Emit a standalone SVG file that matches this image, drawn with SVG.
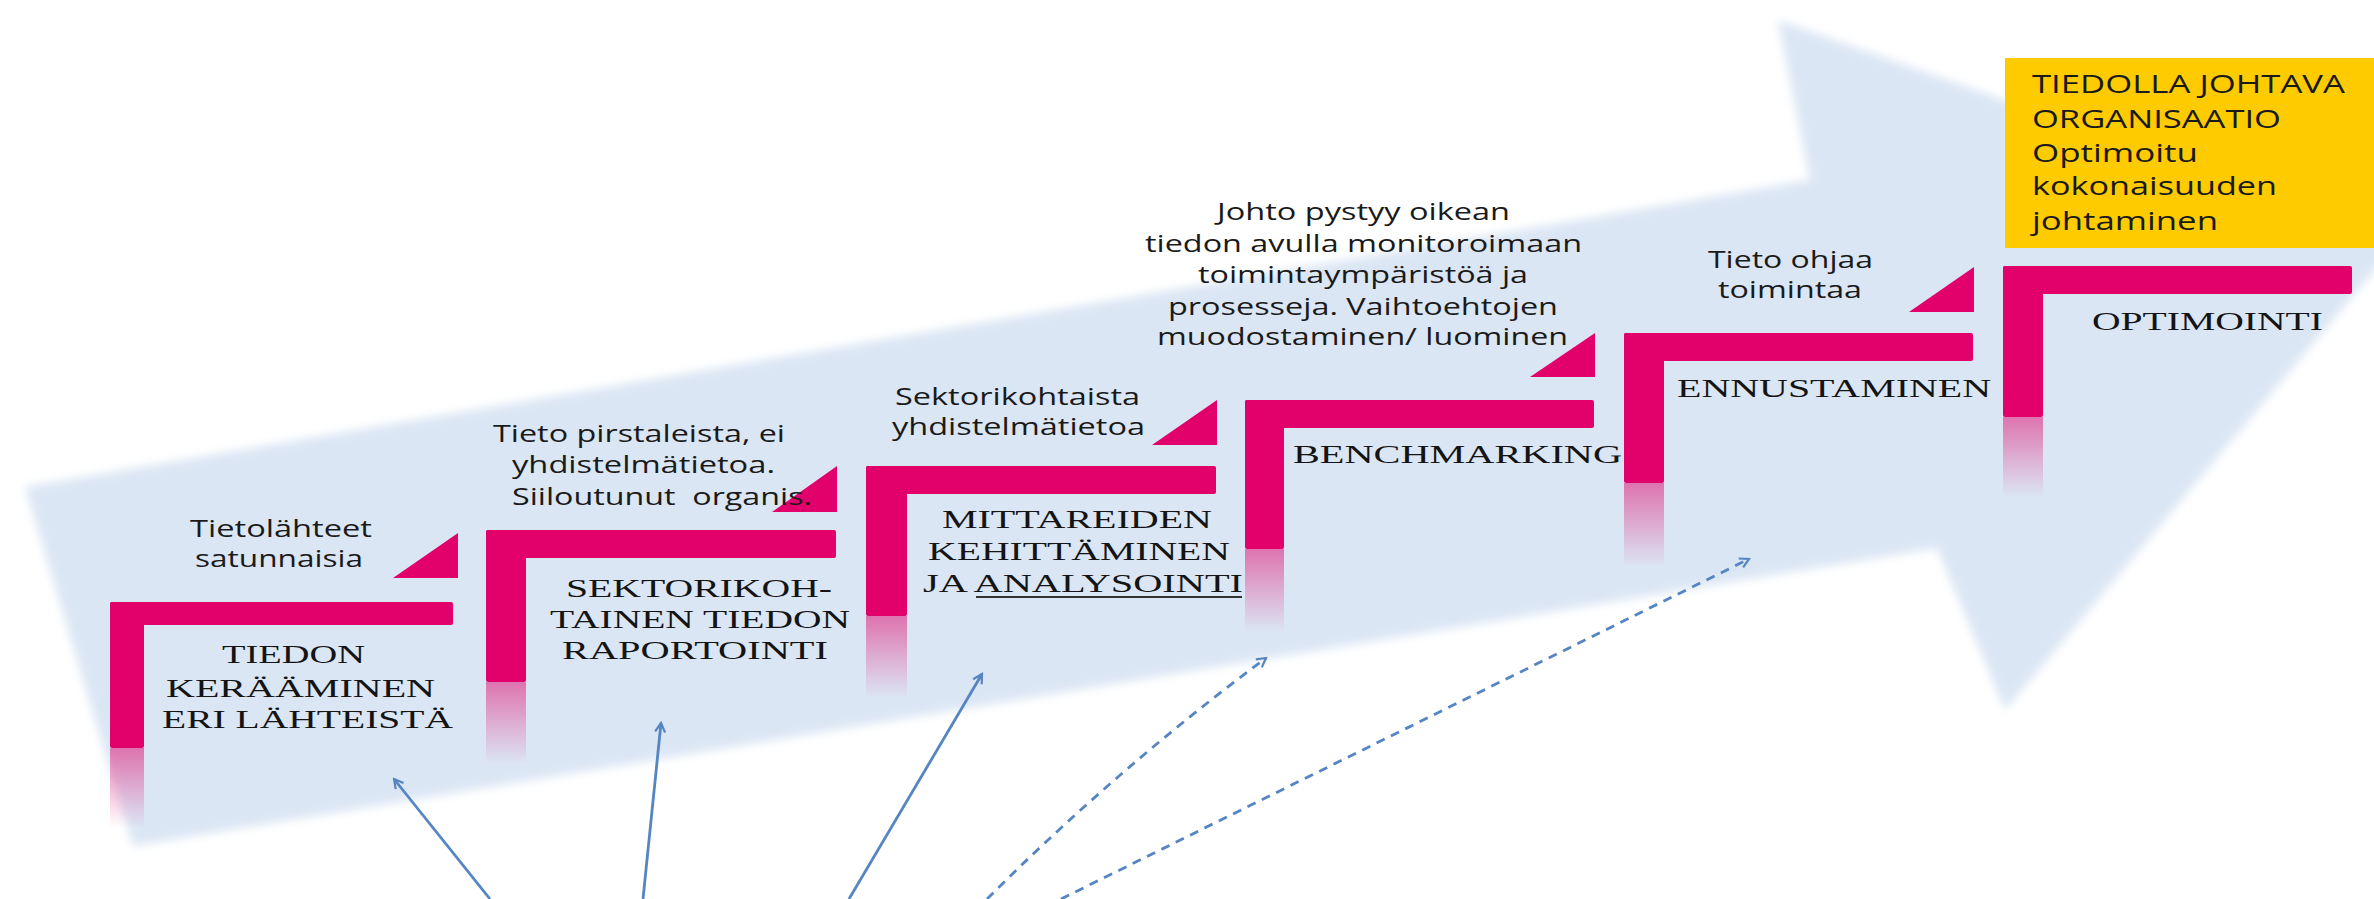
<svg xmlns="http://www.w3.org/2000/svg" width="2374" height="899" viewBox="0 0 2374 899">
<style>
.bar{fill:#e2006b}
.s{font-family:"Open Sans","Noto Sans","Liberation Sans",sans-serif;font-size:23px;fill:#1a1a1a}
.g{font-family:"Open Sans","Noto Sans","Liberation Sans",sans-serif;font-size:25px;fill:#1a1a1a}
.r{font-family:"Liberation Serif","Times New Roman",serif;font-size:26px;fill:#141414}
.ar{fill:none;stroke:#5585c2;stroke-width:2.8}
.da{stroke-dasharray:9 7}
</style>
<defs>
<filter id="soft" x="-5%" y="-10%" width="110%" height="120%"><feGaussianBlur stdDeviation="5"/></filter>
<linearGradient id="fade" x1="0" y1="0" x2="0" y2="1">
<stop offset="0" stop-color="#e2006b" stop-opacity="0.5"/>
<stop offset="1" stop-color="#e2006b" stop-opacity="0"/>
</linearGradient>
<marker id="ah" viewBox="0 0 12 12" refX="10" refY="6" markerWidth="12" markerHeight="12" markerUnits="userSpaceOnUse" orient="auto">
<path d="M1,1 L10,6 L1,11" fill="none" stroke="#5585c2" stroke-width="2.2"/>
</marker>
</defs>
<rect width="2374" height="899" fill="#ffffff"/>
<g id="big-arrow">
<path d="M25,487 L1810,180 L1778,20 L2400,240 L2005,710 L1937,548 L133,846 Z" fill="#dbe6f4" filter="url(#soft)"/>
</g>
<g id="goal">
<rect x="2005" y="58" width="369" height="190" fill="#fecb00"/>
<text class="g" x="2032" y="93" textLength="313" lengthAdjust="spacingAndGlyphs">TIEDOLLA JOHTAVA</text>
<text class="g" x="2032" y="128" textLength="249" lengthAdjust="spacingAndGlyphs">ORGANISAATIO</text>
<text class="g" x="2032" y="162" textLength="166" lengthAdjust="spacingAndGlyphs">Optimoitu</text>
<text class="g" x="2032" y="195" textLength="245" lengthAdjust="spacingAndGlyphs">kokonaisuuden</text>
<text class="g" x="2032" y="230" textLength="186" lengthAdjust="spacingAndGlyphs">johtaminen</text>
</g>
<g id="step1">
<rect class="bar" x="110" y="602" width="343" height="23" rx="2"/>
<rect class="bar" x="110" y="602" width="34" height="146" rx="2"/>
<rect x="110" y="748" width="34" height="80" fill="url(#fade)"/>
<path class="bar" d="M458,533 L458,578 L393,578 Z"/>
<text class="s" x="190" y="537" textLength="182" lengthAdjust="spacingAndGlyphs">Tietolähteet</text>
<text class="s" x="195" y="567" textLength="168" lengthAdjust="spacingAndGlyphs">satunnaisia</text>
<text class="r" x="222" y="663" textLength="143" lengthAdjust="spacingAndGlyphs">TIEDON</text>
<text class="r" x="166" y="697" textLength="269" lengthAdjust="spacingAndGlyphs">KERÄÄMINEN</text>
<text class="r" x="162" y="728" textLength="291" lengthAdjust="spacingAndGlyphs">ERI LÄHTEISTÄ</text>
</g>
<g id="step2">
<rect class="bar" x="486" y="530" width="350" height="28" rx="2"/>
<rect class="bar" x="486" y="530" width="40" height="152" rx="2"/>
<rect x="486" y="682" width="40" height="82" fill="url(#fade)"/>
<path class="bar" d="M837,466 L837,512 L772,512 Z"/>
<text class="s" x="493" y="442" textLength="292" lengthAdjust="spacingAndGlyphs">Tieto pirstaleista, ei</text>
<text class="s" x="512" y="473" textLength="263" lengthAdjust="spacingAndGlyphs">yhdistelmätietoa.</text>
<text class="s" x="512" y="505" textLength="300" lengthAdjust="spacingAndGlyphs" xml:space="preserve">Siiloutunut  organis.</text>
<text class="r" x="566" y="597" textLength="266" lengthAdjust="spacingAndGlyphs">SEKTORIKOH-</text>
<text class="r" x="550" y="628" textLength="300" lengthAdjust="spacingAndGlyphs">TAINEN TIEDON</text>
<text class="r" x="562" y="659" textLength="266" lengthAdjust="spacingAndGlyphs">RAPORTOINTI</text>
</g>
<g id="step3">
<rect class="bar" x="866" y="466" width="350" height="28" rx="2"/>
<rect class="bar" x="866" y="466" width="41" height="150" rx="2"/>
<rect x="866" y="616" width="41" height="82" fill="url(#fade)"/>
<path class="bar" d="M1217,400 L1217,445 L1152,445 Z"/>
<text class="s" x="895" y="405" textLength="245" lengthAdjust="spacingAndGlyphs">Sektorikohtaista</text>
<text class="s" x="892" y="435" textLength="253" lengthAdjust="spacingAndGlyphs">yhdistelmätietoa</text>
<text class="r" x="942" y="528" textLength="270" lengthAdjust="spacingAndGlyphs">MITTAREIDEN</text>
<text class="r" x="928" y="560" textLength="302" lengthAdjust="spacingAndGlyphs">KEHITTÄMINEN</text>
<text class="r" x="923" y="592" textLength="320" lengthAdjust="spacingAndGlyphs">JA ANALYSOINTI</text>
<line x1="976" y1="597" x2="1242" y2="597" stroke="#333" stroke-width="2"/>
</g>
<g id="step4">
<rect class="bar" x="1245" y="400" width="349" height="28" rx="2"/>
<rect class="bar" x="1245" y="400" width="39" height="149" rx="2"/>
<rect x="1245" y="549" width="39" height="83" fill="url(#fade)"/>
<path class="bar" d="M1595,333 L1595,377 L1530,377 Z"/>
<text class="s" x="1217" y="220" textLength="293" lengthAdjust="spacingAndGlyphs">Johto pystyy oikean</text>
<text class="s" x="1145" y="252" textLength="437" lengthAdjust="spacingAndGlyphs">tiedon avulla monitoroimaan</text>
<text class="s" x="1198" y="283" textLength="330" lengthAdjust="spacingAndGlyphs">toimintaympäristöä ja</text>
<text class="s" x="1168" y="315" textLength="390" lengthAdjust="spacingAndGlyphs">prosesseja. Vaihtoehtojen</text>
<text class="s" x="1157" y="345" textLength="411" lengthAdjust="spacingAndGlyphs">muodostaminen/ luominen</text>
<text class="r" x="1293" y="463" textLength="329" lengthAdjust="spacingAndGlyphs">BENCHMARKING</text>
</g>
<g id="step5">
<rect class="bar" x="1624" y="333" width="349" height="28" rx="2"/>
<rect class="bar" x="1624" y="333" width="40" height="150" rx="2"/>
<rect x="1624" y="483" width="40" height="84" fill="url(#fade)"/>
<path class="bar" d="M1974,267 L1974,312 L1909,312 Z"/>
<text class="s" x="1708" y="268" textLength="165" lengthAdjust="spacingAndGlyphs">Tieto ohjaa</text>
<text class="s" x="1718" y="298" textLength="144" lengthAdjust="spacingAndGlyphs">toimintaa</text>
<text class="r" x="1677" y="397" textLength="314" lengthAdjust="spacingAndGlyphs">ENNUSTAMINEN</text>
</g>
<g id="step6">
<rect class="bar" x="2003" y="266" width="349" height="28" rx="2"/>
<rect class="bar" x="2003" y="266" width="40" height="151" rx="2"/>
<rect x="2003" y="417" width="40" height="80" fill="url(#fade)"/>
<text class="r" x="2092" y="330" textLength="231" lengthAdjust="spacingAndGlyphs">OPTIMOINTI</text>
</g>
<g id="connectors">
<line class="ar" x1="490" y1="899" x2="394" y2="779" marker-end="url(#ah)"/>
<line class="ar" x1="643" y1="899" x2="661" y2="723" marker-end="url(#ah)"/>
<line class="ar" x1="849" y1="899" x2="982" y2="674" marker-end="url(#ah)"/>
<path class="ar da" d="M987,899 Q1118,768 1266,658" marker-end="url(#ah)"/>
<line class="ar da" x1="1061" y1="899" x2="1749" y2="559" marker-end="url(#ah)"/>
</g>
</svg>
